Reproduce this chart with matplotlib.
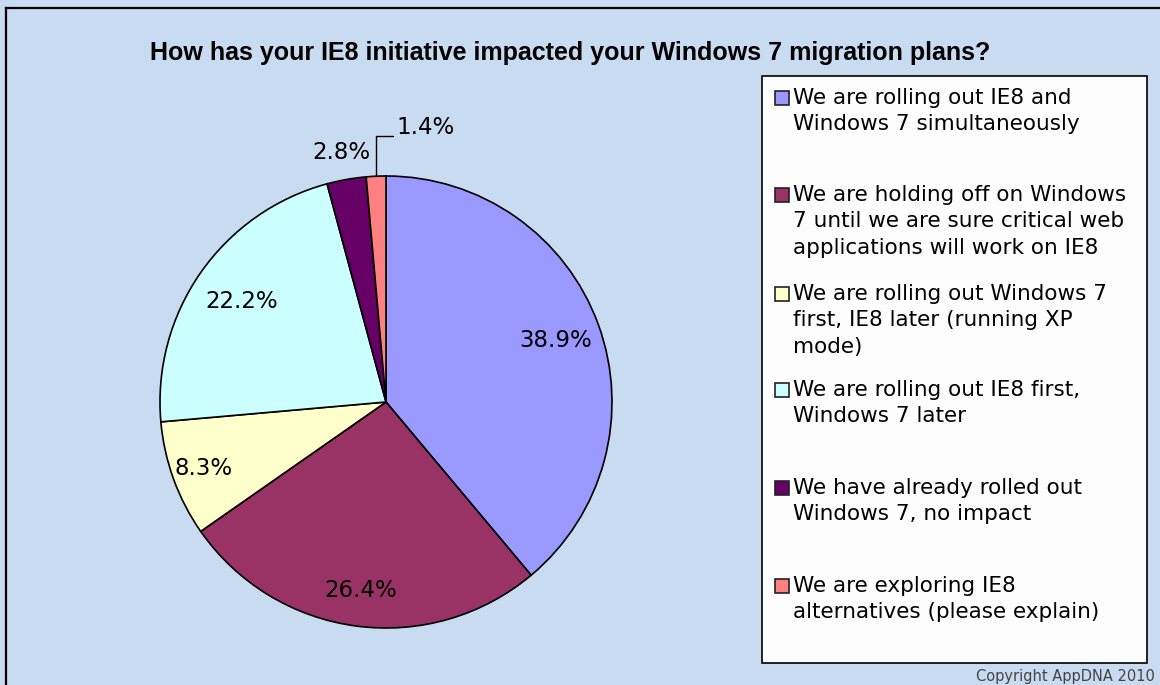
import numpy as np
import matplotlib
matplotlib.use("Agg")
import matplotlib.pyplot as plt
from matplotlib.patches import Rectangle
from matplotlib.lines import Line2D

# survey answers, in slice order (clockwise from 12 o'clock)
answers = [
    "We are rolling out IE8 and\nWindows 7 simultaneously",
    "We are holding off on Windows\n7 until we are sure critical web\napplications will work on IE8",
    "We are rolling out Windows 7\nfirst, IE8 later (running XP\nmode)",
    "We are rolling out IE8 first,\nWindows 7 later",
    "We have already rolled out\nWindows 7, no impact",
    "We are exploring IE8\nalternatives (please explain)",
]
shares = [38.9, 26.4, 8.3, 22.2, 2.8, 1.4]
colors = ["#9999FF", "#993366", "#FFFFCC", "#CCFFFF", "#660066", "#FF8080"]

W, H = 1160, 685
BG = "#C9DBF0"

def fx(x):
    return x / W

def fy(y):
    return 1 - y / H

fig = plt.figure(figsize=(W / 100, H / 100), dpi=100, facecolor=BG)

# frame lines on top and left, like the pasted excel chart
fig.add_artist(Line2D([fx(6), 1], [fy(8), fy(8)], color="black", lw=1.6, transform=fig.transFigure))
fig.add_artist(Line2D([fx(6), fx(6)], [fy(8), 0], color="black", lw=1.6, transform=fig.transFigure))

fig.text(fx(570), fy(53), "How has your IE8 initiative impacted your Windows 7 migration plans?",
         ha="center", va="center", fontsize=18, fontweight="bold",
         family=["Liberation Sans", "DejaVu Sans"], color="black")

# pie
cx, cy, r = 386, 402, 226
ax = fig.add_axes([fx(cx - r), fy(cy + r), 2 * r / W, 2 * r / H])
ax.set_facecolor("none")
wedges, _ = ax.pie(shares, colors=colors, startangle=90, counterclock=False,
                   wedgeprops=dict(edgecolor="black", linewidth=1.2))
ax.set_xlim(-1, 1)
ax.set_ylim(-1, 1)
ax.axis("off")

label_dist = [0.80, 0.84, 0.86, 0.78, 1.12]
for i, w in enumerate(wedges):
    mid = np.deg2rad((w.theta1 + w.theta2) / 2)
    txt = f"{shares[i]:.1f}%"
    if i < len(label_dist):
        d = label_dist[i]
        ax.text(d * np.cos(mid), d * np.sin(mid), txt, ha="center", va="center",
                fontsize=16.5, color="black", clip_on=False)
    else:
        ax.annotate(txt, xy=(np.cos(mid), np.sin(mid)), xytext=(0.045, 1.165),
                    ha="left", va="bottom", fontsize=16.5, color="black",
                    annotation_clip=False,
                    arrowprops=dict(arrowstyle="-", color="black", lw=1,
                                    relpos=(0, 0.1), shrinkA=0, shrinkB=0,
                                    connectionstyle="angle,angleA=0,angleB=90,rad=0"))

# legend drawn by hand to keep Excel's even spacing
fig.add_artist(Rectangle((fx(762), fy(663)), fx(1147) - fx(762), fy(76) - fy(663),
                         transform=fig.transFigure, facecolor="#FDFDFD",
                         edgecolor="black", lw=1.2))
tops = [88, 185, 284, 380, 478, 576]
for i, lab in enumerate(answers):
    fig.add_artist(Rectangle((fx(775), fy(tops[i] + 17)), 14 / W, 14 / H,
                             transform=fig.transFigure, facecolor=colors[i],
                             edgecolor="#222222", lw=1.2))
    fig.text(fx(793), fy(tops[i]), lab, ha="left", va="top", fontsize=15.5,
             linespacing=1.4, color="black")

fig.text(fx(1155), fy(676), "Copyright AppDNA 2010", ha="right", va="center",
         fontsize=10.5, color="#444444")

fig.savefig("out.png", dpi=100, facecolor=BG)
